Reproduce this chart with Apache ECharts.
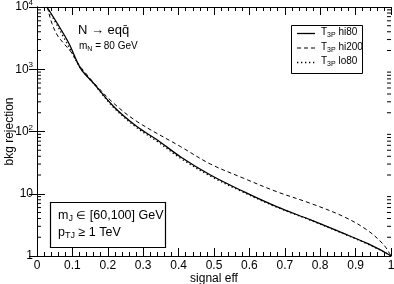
<!DOCTYPE html>
<html>
<head>
<meta charset="utf-8">
<script src="https://cdn.jsdelivr.net/npm/echarts@6/dist/echarts.min.js"></script>
<style>html,body{margin:0;padding:0;background:#fff}#c{width:394px;height:284px}</style>
</head>
<body>
<div id="c"></div>
<script>
// ---- data ----
var seriesNames = ['T3P hi80', 'T3P hi200', 'T3P lo80'];
var hi80 = [[0.028,10000],[0.057,5480],[0.09,2620],[0.123,1035],[0.16,594],[0.217,250],[0.283,119],[0.34,73],[0.406,39],[0.49,20],[0.584,10.8],[0.677,6.2],[0.773,3.8],[0.866,2.31],[0.933,1.59],[0.98,1.17],[1.0,1.0]];
var hi200 = [[0.029,10000],[0.042,5480],[0.057,3550],[0.075,2620],[0.099,1810],[0.115,1250],[0.135,900],[0.16,610],[0.217,283],[0.283,144],[0.406,57],[0.49,30],[0.584,17.7],[0.677,10.8],[0.773,7.0],[0.866,4.3],[0.933,2.6],[0.98,1.5],[1.0,1.0]];
var lo80 = [[0.028,10000],[0.05,6000],[0.075,3300],[0.1,1800],[0.123,1040],[0.16,588],[0.217,242],[0.283,114],[0.34,69],[0.406,37],[0.49,19.2],[0.584,10.5],[0.677,6.1],[0.773,3.75],[0.866,2.28],[0.933,1.57],[0.98,1.16],[1.0,1.0]];
var xTicks = [0,0.1,0.2,0.3,0.4,0.5,0.6,0.7,0.8,0.9,1];
var yTickLabels = {1:'1', 10:'10', 100:'10{sup|2}', 1000:'10{sup|3}', 10000:'10{sup|4}'};
var yMinorTicks = [];
[1,10,100,1000].forEach(function(d){ for (var m=2;m<=9;m++) yMinorTicks.push([0, m*d]); });

var FONT = '"Liberation Sans", Arial, Helvetica, sans-serif';
var chart = echarts.init(document.getElementById('c'), null, {renderer:'canvas'});
var axisLine = {show:true, lineStyle:{color:'#000', width:1}};
var sup = {fontSize:8, fontFamily:FONT, padding:[0,0,8,0], color:'#000'};
var tick = {show:true, inside:true, length:8, lineStyle:{color:'#000', width:1}};
var minor = {show:true, splitNumber:5, length:4, lineStyle:{color:'#000', width:1}};

// legend built as graphic (line sample + rich text)
var legendStyles = [[], [4,3], [1.3,2.7]];
var legendWidths = [1.3, 1, 1.4];
var legendGraphic = [
  {type:'rect', shape:{x:291.5, y:25.5, width:71, height:48}, style:{fill:'#fff', stroke:'#000', lineWidth:1}, z:10}
];
seriesNames.forEach(function(n, i){
  var y = 33.5 + i*14.5;
  legendGraphic.push({type:'line', z:11, shape:{x1:297, y1:y, x2:315, y2:y},
    style:{stroke:'#000', lineWidth:legendWidths[i], lineDash:legendStyles[i].length?legendStyles[i]:null}});
  legendGraphic.push({type:'text', z:11, left:321, top:y-6, style:{
    text:'T{sub|3P} ' + n.split(' ')[1], fontSize:10, fontFamily:FONT, fill:'#000',
    rich:{sub:{fontSize:7, fontFamily:FONT, padding:[6,0,0,0]}}}});
});

chart.setOption({
  animation:false,
  backgroundColor:'#fff',
  grid:{left:37, right:3, top:7, bottom:28, containLabel:false, outerBoundsMode:'none'},
  xAxis:[{
    type:'value', min:0, max:1, interval:0.1,
    axisLine:axisLine, axisTick:tick, minorTick:minor,
    splitLine:{show:false}, minorSplitLine:{show:false},
    axisLabel:{color:'#000', fontSize:12, fontFamily:FONT, margin:4,
      formatter:function(v){ var r=Math.round(v*10)/10; return xTicks.indexOf(r)>=0 ? String(r) : ''; }},
    name:'signal eff', nameLocation:'middle', nameGap:17, nameMoveOverlap:false,
    nameTextStyle:{color:'#000', fontSize:12, fontFamily:FONT, verticalAlign:'top'}
  },{
    type:'value', min:0, max:1, interval:0.1, position:'top',
    axisLine:axisLine, axisTick:tick, minorTick:minor,
    splitLine:{show:false}, axisLabel:{show:false}
  }],
  yAxis:[{
    type:'log', logBase:10, min:1, max:10000,
    axisLine:axisLine, axisTick:tick,
    splitLine:{show:false},
    axisLabel:{color:'#000', fontSize:12, fontFamily:FONT, margin:4,
      formatter:function(v){ var k=Math.round(v); return yTickLabels[k]||''; },
      rich:{sup:sup}},
    name:'bkg rejection', nameLocation:'middle', nameGap:21, nameMoveOverlap:false,
    nameTextStyle:{color:'#000', fontSize:12, fontFamily:FONT}
  },{
    type:'log', logBase:10, min:1, max:10000, position:'right',
    axisLine:axisLine, axisTick:tick,
    splitLine:{show:false}, axisLabel:{show:false}
  }],
  series:[
    {name:seriesNames[0], type:'line', data:hi80, smooth:0.35, symbol:'none', z:4,
     lineStyle:{color:'#000', width:1.3, type:'solid'}},
    {name:seriesNames[1], type:'line', data:hi200, smooth:0.35, symbol:'none', z:3,
     lineStyle:{color:'#000', width:1, type:[4,3]}},
    {name:seriesNames[2], type:'line', data:lo80, smooth:0.35, symbol:'none', z:3,
     lineStyle:{color:'#000', width:1.4, type:[1.3,2.7]}},
    {type:'custom', data:yMinorTicks, silent:true, clip:false, z:5,
     renderItem:function(params, api){
       var v = api.value(1);
       var l = api.coord([0, v]); var r = api.coord([1, v]);
       return {type:'group', children:[
         {type:'line', shape:{x1:l[0], y1:l[1], x2:l[0]+4, y2:l[1]}, style:{stroke:'#000', lineWidth:1}},
         {type:'line', shape:{x1:r[0], y1:r[1], x2:r[0]-4, y2:r[1]}, style:{stroke:'#000', lineWidth:1}}
       ]};
     }}
  ],
  graphic:[
    {type:'text', left:78, top:24, style:{text:'N → eqq\u0304', fontSize:13, fontFamily:FONT, fill:'#000'}},
    {type:'text', left:79, top:41, style:{text:'m{sub|N} = 80 GeV', fontSize:10, fontFamily:FONT, fill:'#000',
      rich:{sub:{fontSize:7, fontFamily:FONT, padding:[6,0,0,0]}}}},
    {type:'rect', shape:{x:50.5, y:202.5, width:115, height:45}, style:{fill:'#fff', stroke:'#000', lineWidth:1.2}, z:10},
    {type:'text', left:58, top:209, z:11, style:{text:'m{sub|J} {el|∈} [60,100] GeV', fontSize:12.5, fontFamily:FONT, fill:'#000',
      rich:{sub:{fontSize:9, fontFamily:FONT, padding:[7,0,0,0]}, el:{fontSize:11, fontFamily:FONT}}}},
    {type:'text', left:58, top:226, z:11, style:{text:'p{sub|TJ} ≥ 1 TeV', fontSize:12.5, fontFamily:FONT, fill:'#000',
      rich:{sub:{fontSize:9, fontFamily:FONT, padding:[7,0,0,0]}}}}
  ].concat(legendGraphic)
});
</script>
</body>
</html>
